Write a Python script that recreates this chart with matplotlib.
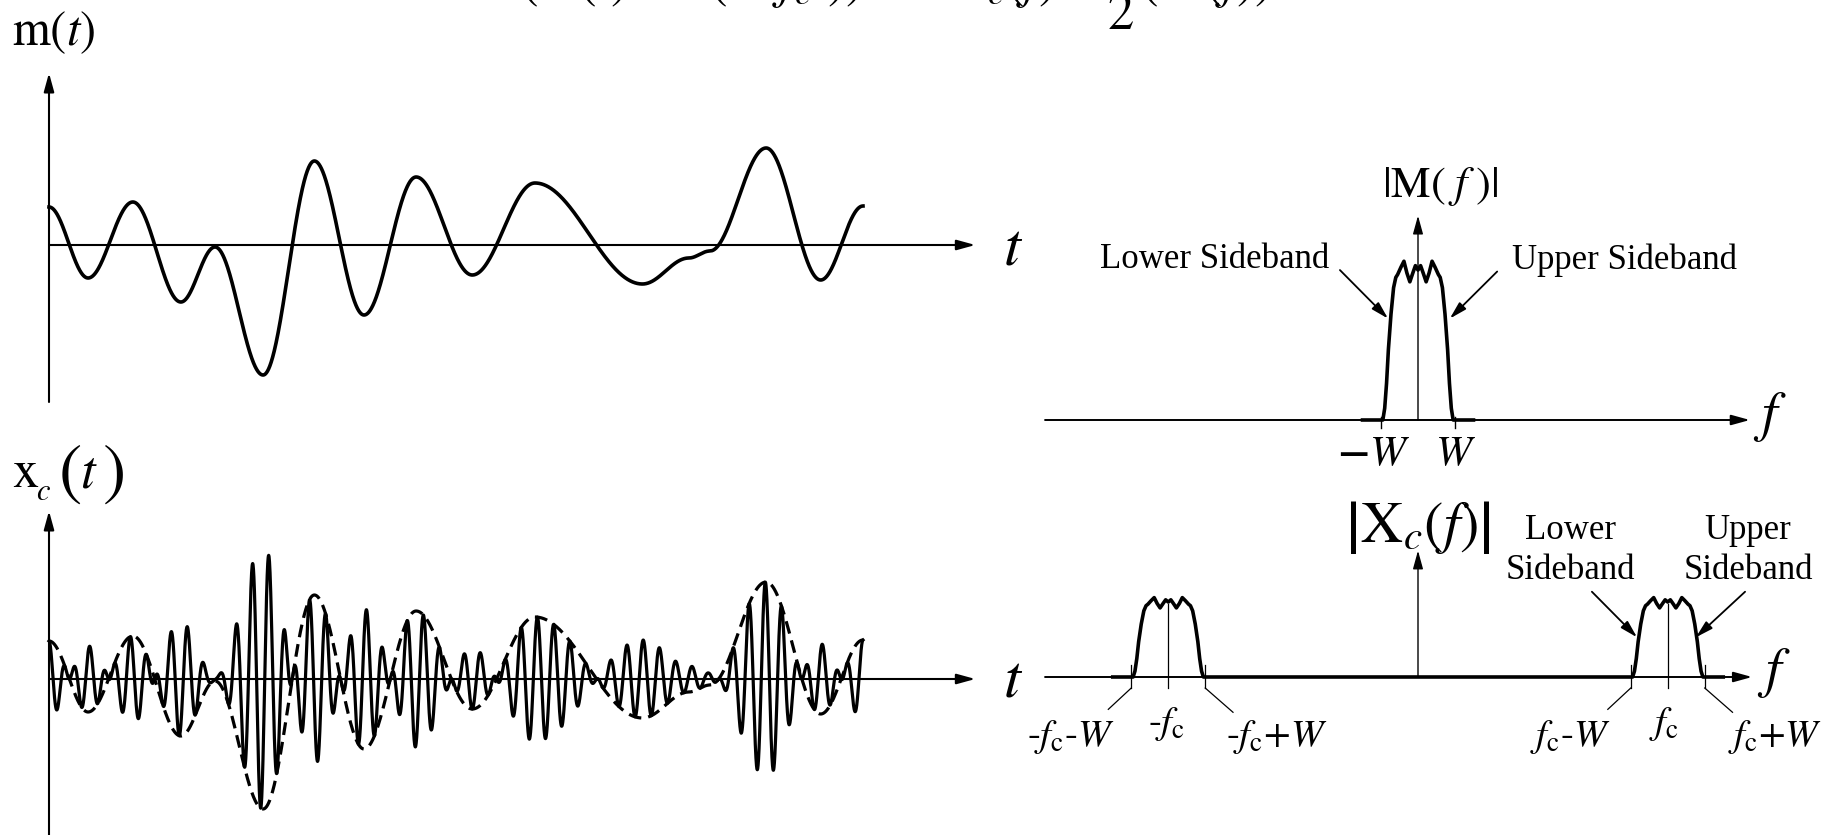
import numpy as np
import matplotlib
matplotlib.use('Agg')
import matplotlib.pyplot as plt

plt.rcParams['font.family'] = ['Liberation Serif', 'DejaVu Serif']
plt.rcParams['mathtext.fontset'] = 'stix'

W_PX, H_PX = 1841, 835

# message m(t): its turning points along the time axis
t_key = np.array([0, 0.48, 1.03, 1.62, 2.04, 2.63, 3.26, 3.87, 4.51, 5.20,
                  5.97, 7.29, 7.86, 8.12, 8.81, 9.48, 10.0])
m_key = np.array([0.38, -0.33, 0.43, -0.57, -0.02, -1.30, 0.84, -0.70, 0.68, -0.30,
                  0.62, -0.39, -0.13, -0.06, 0.97, -0.35, 0.39])
carrier_cycles = 5          # carrier cycles per time unit

# |M(f)|, frequency in units of W
spec_f = np.array([-1.5, -0.95, -0.9, -0.85, -0.8, -0.73, -0.66, -0.6, -0.55, -0.46,
                   -0.38, -0.3, -0.22, -0.14, -0.07, 0, 0.07, 0.14, 0.22, 0.3,
                   0.38, 0.46, 0.55, 0.6, 0.66, 0.73, 0.8, 0.85, 0.9, 0.95, 1.5])
spec_m = np.array([0, 0, 0.08, 0.25, 0.48, 0.72, 0.9, 0.97, 0.99, 1.04,
                   1.08, 1.0, 0.94, 1.0, 1.05, 1.02, 1.05, 1.0, 0.94, 1.0,
                   1.08, 1.04, 0.99, 0.97, 0.9, 0.72, 0.48, 0.25, 0.08, 0, 0])
W = 1.0
fc = 6.75

fig = plt.figure(figsize=(W_PX / 100, H_PX / 100), dpi=100)


def panel(left, right, top, bottom, ox, oy, sx, sy):
    ax = fig.add_axes([left / W_PX, 1 - bottom / H_PX, (right - left) / W_PX, (bottom - top) / H_PX])
    ax.set_xlim((left - ox) / sx, (right - ox) / sx)
    ax.set_ylim((oy - bottom) / sy, (oy - top) / sy)
    ax.axis('off')
    return ax


def arrow(ax, x0, y0, x1, y1, lw=1.5, ms=14):
    ax.annotate('', xy=(x1, y1), xytext=(x0, y0), annotation_clip=False,
                arrowprops=dict(arrowstyle='-|>,head_length=0.8,head_width=0.22', lw=lw,
                                color='k', shrinkA=0, shrinkB=0, mutation_scale=ms))


def ftext(x, y, s, size, **kw):
    fig.text(x / W_PX, 1 - y / H_PX, s, fontsize=size, **kw)


def smooth_through(tk, yk, n=6000):
    t = np.linspace(tk[0], tk[-1], n)
    i = np.clip(np.searchsorted(tk, t, side='right') - 1, 0, len(tk) - 2)
    s = (t - tk[i]) / (tk[i + 1] - tk[i])
    return t, yk[i] + (yk[i + 1] - yk[i]) * (1 - np.cos(np.pi * s)) / 2


t, m = smooth_through(t_key, m_key)
xc = m * np.cos(2 * np.pi * carrier_cycles * t)

ax_m = panel(0, 1040, 55, 420, 49, 245, 81.4, 100)
ax_x = panel(0, 1040, 430, 835, 49, 679, 81.4, 100)
ax_M = panel(1040, 1841, 140, 480, 1418, 420, 37, 147)
ax_X = panel(1040, 1841, 480, 835, 1418, 677, 37, 147)

# m(t)
arrow(ax_m, 0, 0, 11.38, 0)
arrow(ax_m, 0, -1.57, 0, 1.72)
ax_m.plot(t, m, 'k', lw=2.6)

# x_c(t) with the message drawn dashed
arrow(ax_x, 0, 0, 11.38, 0)
arrow(ax_x, 0, -1.56, 0, 1.68)
ax_x.plot(t, m, 'k', lw=2.3, ls=(0, (4, 2.2)))
ax_x.plot(t, xc, 'k', lw=2.3)

# |M(f)|
arrow(ax_M, -10.08, 0, 8.97, 0, lw=1.4)
arrow(ax_M, 0, 0, 0, 1.39, lw=1.0)
ax_M.plot(spec_f, spec_m, 'k', lw=2.6)
for fk in (-W, W):
    ax_M.plot([fk, fk], [0.02, -0.055], 'k', lw=1.0)
ax_M.text(-1.2 * W, -0.24, r'$\mathbf{-}W$', fontsize=31, ha='center', va='center')
ax_M.text(1.0 * W, -0.24, r'$W$', fontsize=31, ha='center', va='center')
ax_M.text(-5.51, 1.09, 'Lower Sideband', fontsize=25, ha='center', va='center')
ax_M.text(5.59, 1.09, 'Upper Sideband', fontsize=25, ha='center', va='center')
arrow(ax_M, -2.11, 1.02, -0.81, 0.69, lw=1.3, ms=13)
arrow(ax_M, 2.14, 1.01, 0.86, 0.69, lw=1.3, ms=13)

# |X_c(f)|
arrow(ax_X, -10.08, 0, 9.03, 0, lw=1.4)
arrow(ax_X, 0, 0, 0, 0.86, lw=1.0)
xf = np.concatenate([spec_f - fc, spec_f + fc])
xh = 0.5 * np.concatenate([spec_m, spec_m])
ax_X.plot(xf, xh, 'k', lw=2.6)
for c in (-fc, fc):
    ax_X.plot([c, c], [0.5, -0.075], 'k', lw=0.9)
    ax_X.plot([c - W, c - W], [0.08, -0.075], 'k', lw=0.9)
    ax_X.plot([c + W, c + W], [0.08, -0.075], 'k', lw=0.9)
    ax_X.plot([c - W, c - W - 0.62], [-0.075, -0.22], 'k', lw=0.9)
    ax_X.plot([c + W, c + W + 0.75], [-0.075, -0.24], 'k', lw=0.9)

lab = 28
ax_X.text(-fc - W - 1.63, -0.41, r'$\text{-}f_{\mathrm{c}}\text{-}W$', fontsize=lab, ha='center', va='center')
ax_X.text(-fc - 0.06, -0.32, r'$\text{-}f_{\mathrm{c}}$', fontsize=lab, ha='center', va='center')
ax_X.text(-fc + W + 1.94, -0.41, r'$\text{-}f_{\mathrm{c}}\mathrm{+}W$', fontsize=lab, ha='center', va='center')
ax_X.text(fc - W - 1.64, -0.41, r'$f_{\mathrm{c}}\text{-}W$', fontsize=lab, ha='center', va='center')
ax_X.text(fc - 0.1, -0.32, r'$f_{\mathrm{c}}$', fontsize=lab, ha='center', va='center')
ax_X.text(fc + W + 1.9, -0.41, r'$f_{\mathrm{c}}\mathrm{+}W$', fontsize=lab, ha='center', va='center')

ax_X.text(4.11, 0.86, 'Lower\nSideband', fontsize=25, ha='center', va='center', linespacing=1.25)
ax_X.text(8.92, 0.86, 'Upper\nSideband', fontsize=25, ha='center', va='center', linespacing=1.25)
arrow(ax_X, 4.70, 0.58, 5.92, 0.27, lw=1.3, ms=13)
arrow(ax_X, 8.84, 0.58, 7.51, 0.27, lw=1.3, ms=13)

# axis names
ftext(12, 33, r'$\mathrm{m}(t)$', 35, ha='left', va='center')
ftext(12, 487, r'$\mathrm{x}$', 38, ha='left', va='baseline')
ftext(36, 500, r'$c$', 22, ha='left', va='baseline')
ftext(58, 492, r'$($', 50, ha='left', va='baseline')
ftext(80, 488, r'$t$', 38, ha='left', va='baseline')
ftext(102, 492, r'$)$', 50, ha='left', va='baseline')
ftext(1013, 250, r'$t$', 44, ha='center', va='center')
ftext(1013, 682, r'$t$', 44, ha='center', va='center')
ftext(1770, 417, r'$f$', 40, ha='center', va='center')
ftext(1774, 673, r'$f$', 40, ha='center', va='center')
ftext(1440, 186, r'$|\mathrm{M}(\;f\;)|$', 32, ha='center', va='center')
ftext(1418, 528, r'$\left|\mathrm{X}_c\left(f\right)\right|$', 42, ha='center', va='center')

# relation running off the top edge
ftext(520, -2, r'$\left(\mathrm{m}(t)\;\cos(2\pi f_c t)\right)\;\Leftrightarrow\;'
               r'\mathrm{X}_c(f)=\dfrac{1}{2}\left(\mathrm{M}(f)\right)$',
      38, ha='left', va='baseline')

fig.savefig('out.png', dpi=100)
